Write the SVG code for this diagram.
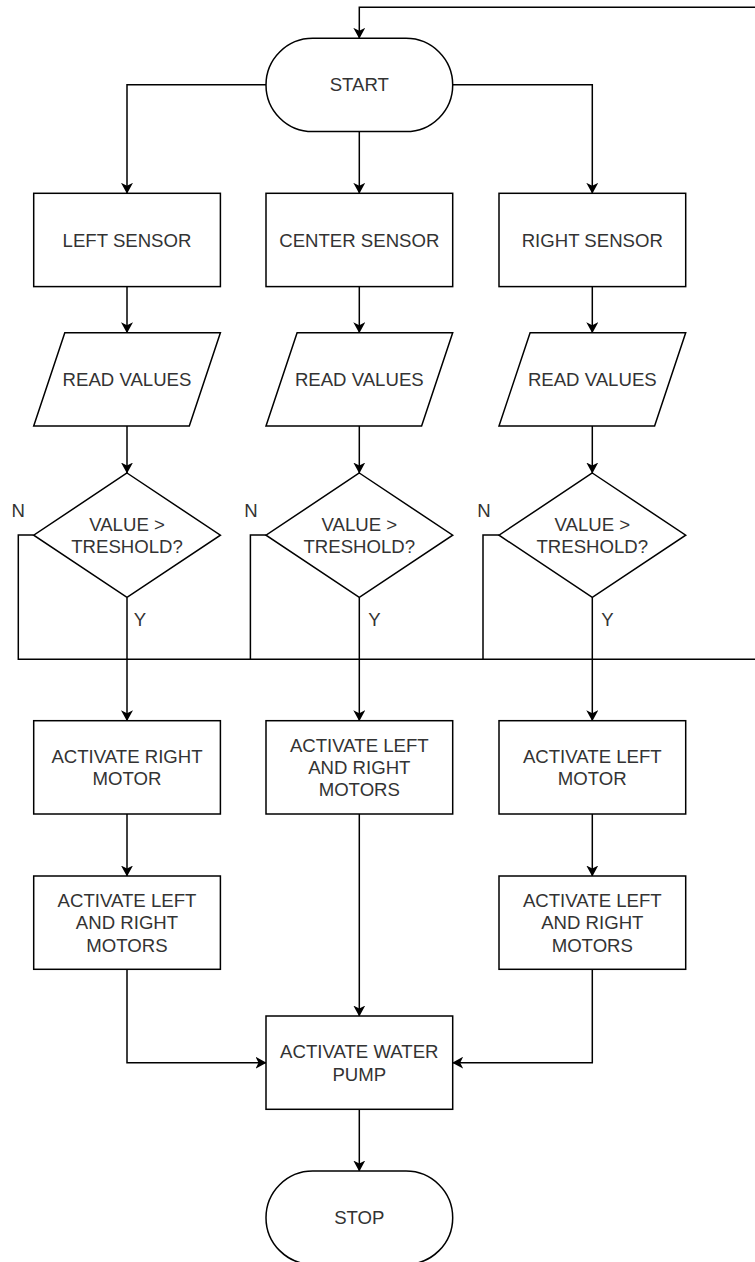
<svg xmlns="http://www.w3.org/2000/svg" width="755" height="1262" viewBox="0 0 755 1262">
<defs>
<marker id="arr" viewBox="0 0 11 12" refX="10.5" refY="6" markerWidth="11" markerHeight="12" markerUnits="userSpaceOnUse" orient="auto">
<path d="M0,0 L11,6 L0,12 L3,6 Z" fill="#000"/>
</marker>
<style>
.s{fill:#fff;stroke:#000;stroke-width:1.5}
.e{fill:none;stroke:#000;stroke-width:1.5}
.a{marker-end:url(#arr)}
text{font-family:"Liberation Sans",Arial,Helvetica,sans-serif;font-size:18.6px;fill:#333;text-anchor:middle}
</style>
</defs>
<rect width="755" height="1262" fill="#fff"/>
<g id="connectors">
<path class="e a" d="M33.7,535 H18.3 V659.3 H758 V7.3 H359.3 V38.3"/>
<path class="e" d="M266,535 H250.4 V659.3"/>
<path class="e" d="M499,535 H483 V659.3"/>
<path class="e a" d="M266,84.7 H127 V193.3"/>
<path class="e a" d="M359.3,131.6 V193.3"/>
<path class="e a" d="M452.7,84.7 H592.3 V193.3"/>
<path class="e a" d="M127,286.7 V332.7"/>
<path class="e a" d="M359.3,286.7 V332.7"/>
<path class="e a" d="M592.3,286.7 V332.7"/>
<path class="e a" d="M127,426 V473"/>
<path class="e a" d="M359.3,426 V473"/>
<path class="e a" d="M592.3,426 V473"/>
<path class="e a" d="M127,597.4 V720.7"/>
<path class="e a" d="M359.3,597.4 V720.7"/>
<path class="e a" d="M592.3,597.4 V720.7"/>
<path class="e a" d="M127,814 V876"/>
<path class="e a" d="M592.3,814 V876"/>
<path class="e a" d="M359.3,814 V1016"/>
<path class="e a" d="M127,969.3 V1062.7 H266"/>
<path class="e a" d="M592.3,969.3 V1062.7 H452.7"/>
<path class="e a" d="M359.3,1109.3 V1171"/>
<text x="18.3" y="516.7">N</text>
<text x="251" y="516.7">N</text>
<text x="484" y="516.7">N</text>
<text x="140" y="625.7">Y</text>
<text x="374.5" y="625.7">Y</text>
<text x="607.5" y="625.7">Y</text>
</g>
<g id="start">
<rect class="s" x="266" y="38.3" width="186.7" height="93.3" rx="46.7" ry="46.7"/>
<text x="359.3" y="91.4">START</text>
</g>
<g id="left-sensor">
<rect class="s" x="33.7" y="193.3" width="186.7" height="93.3"/>
<text x="127" y="246.7">LEFT SENSOR</text>
</g>
<g id="center-sensor">
<rect class="s" x="266" y="193.3" width="186.7" height="93.3"/>
<text x="359.3" y="246.7">CENTER SENSOR</text>
</g>
<g id="right-sensor">
<rect class="s" x="499" y="193.3" width="186.7" height="93.3"/>
<text x="592.3" y="246.7">RIGHT SENSOR</text>
</g>
<g id="read-left">
<polygon class="s" points="64.8,332.7 220.4,332.7 189.3,426 33.7,426"/>
<text x="127" y="386">READ VALUES</text>
</g>
<g id="read-center">
<polygon class="s" points="297.1,332.7 452.7,332.7 421.6,426 266,426"/>
<text x="359.3" y="386">READ VALUES</text>
</g>
<g id="read-right">
<polygon class="s" points="530.1,332.7 685.7,332.7 654.6,426 499,426"/>
<text x="592.3" y="386">READ VALUES</text>
</g>
<g id="dec-left">
<polygon class="s" points="127,473 220.4,535.2 127,597.4 33.7,535.2"/>
<text x="127" y="530.5">VALUE &gt;</text>
<text x="127" y="552.9">TRESHOLD?</text>
</g>
<g id="dec-center">
<polygon class="s" points="359.3,473 452.7,535.2 359.3,597.4 266,535.2"/>
<text x="359.3" y="530.5">VALUE &gt;</text>
<text x="359.3" y="552.9">TRESHOLD?</text>
</g>
<g id="dec-right">
<polygon class="s" points="592.3,473 685.7,535.2 592.3,597.4 499,535.2"/>
<text x="592.3" y="530.5">VALUE &gt;</text>
<text x="592.3" y="552.9">TRESHOLD?</text>
</g>
<g id="act-right-motor">
<rect class="s" x="33.7" y="720.7" width="186.7" height="93.3"/>
<text x="127" y="762.8">ACTIVATE RIGHT</text>
<text x="127" y="785.2">MOTOR</text>
</g>
<g id="act-both-center">
<rect class="s" x="266" y="720.7" width="186.7" height="93.3"/>
<text x="359.3" y="751.7">ACTIVATE LEFT</text>
<text x="359.3" y="774">AND RIGHT</text>
<text x="359.3" y="796.4">MOTORS</text>
</g>
<g id="act-left-motor">
<rect class="s" x="499" y="720.7" width="186.7" height="93.3"/>
<text x="592.3" y="762.8">ACTIVATE LEFT</text>
<text x="592.3" y="785.2">MOTOR</text>
</g>
<g id="act-both-left">
<rect class="s" x="33.7" y="876" width="186.7" height="93.3"/>
<text x="127" y="907">ACTIVATE LEFT</text>
<text x="127" y="929.4">AND RIGHT</text>
<text x="127" y="951.8">MOTORS</text>
</g>
<g id="act-both-right">
<rect class="s" x="499" y="876" width="186.7" height="93.3"/>
<text x="592.3" y="907">ACTIVATE LEFT</text>
<text x="592.3" y="929.4">AND RIGHT</text>
<text x="592.3" y="951.8">MOTORS</text>
</g>
<g id="water-pump">
<rect class="s" x="266" y="1016" width="186.7" height="93.3"/>
<text x="359.3" y="1058.2">ACTIVATE WATER</text>
<text x="359.3" y="1080.6">PUMP</text>
</g>
<g id="stop">
<rect class="s" x="266" y="1171" width="186.7" height="93.3" rx="46.7" ry="46.7"/>
<text x="359.3" y="1224.4">STOP</text>
</g>
</svg>
